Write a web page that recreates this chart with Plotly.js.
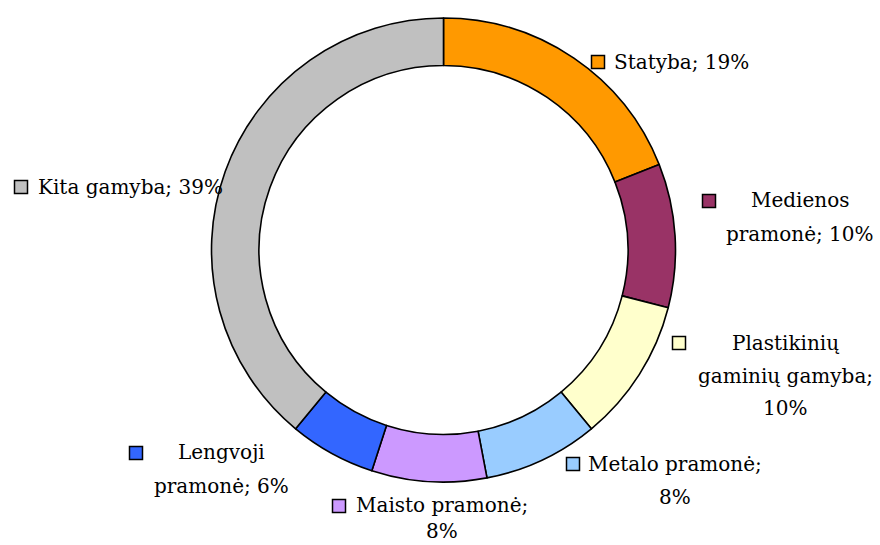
<!DOCTYPE html>
<html>
<head>
<meta charset="utf-8">
<script src="https://cdn.plot.ly/plotly-3.0.1.min.js"></script>
<style>html,body{margin:0;padding:0;background:#fff;}#chart{width:880px;height:545px;}</style>
</head>
<body>
<div id="chart"></div>
<script>
// ---- data ----
const categories = ["Statyba", "Medienos pramonė", "Plastikinių gaminių gamyba", "Metalo pramonė", "Maisto pramonė", "Lengvoji pramonė", "Kita gamyba"];
const values = [19, 10, 10, 8, 8, 6, 39];
const colors = ["#FF9900", "#993366", "#FFFFCC", "#99CCFF", "#CC99FF", "#3366FF", "#C0C0C0"];

// ---- label layout (pixel positions, words per line) ----
const W = 880, H = 545;
const labelLayout = [
  {sq:[598,62],  tx:612, ty:62,  anchor:"left",   words:[2],     gap:33},
  {sq:[709,201], tx:800, ty:200, anchor:"center", words:[1,2],   gap:34},
  {sq:[679,343], tx:785, ty:343, anchor:"center", words:[1,2,1], gap:32.5},
  {sq:[573,464], tx:675, ty:464, anchor:"center", words:[2,1],   gap:33},
  {sq:[339,506], tx:442, ty:505, anchor:"center", words:[2,1],   gap:26},
  {sq:[136,453], tx:221, ty:452, anchor:"center", words:[1,2],   gap:34},
  {sq:[21,187],  tx:36,  ty:187, anchor:"left",   words:[3],     gap:33}
];
const sqSize = 13;
const px = x => x / W, py = y => 1 - y / H;

const annotations = [], shapes = [];
categories.forEach((c, i) => {
  const L = labelLayout[i];
  const words = (c + "; " + values[i] + "%").split(" ");
  let k = 0;
  L.words.forEach((n, li) => {
    const txt = words.slice(k, k + n).join(" ");
    k += n;
    annotations.push({
      xref: "paper", yref: "paper", x: px(L.tx), y: py(L.ty + li * L.gap),
      xanchor: L.anchor, yanchor: "middle", showarrow: false, text: txt,
      font: {family: "DejaVu Serif, serif", size: 20, color: "#000"}
    });
  });
  shapes.push({
    type: "rect", xref: "paper", yref: "paper",
    x0: px(L.sq[0] - sqSize/2), x1: px(L.sq[0] + sqSize/2),
    y0: py(L.sq[1] + sqSize/2), y1: py(L.sq[1] - sqSize/2),
    fillcolor: colors[i], line: {color: "#000", width: 1.5}
  });
});

const cx = 443.5, cy = 250, R = 232;
const trace = {
  type: "pie", labels: categories, values: values, sort: false,
  direction: "clockwise", rotation: 0, hole: 0.795,
  marker: {colors: colors, line: {color: "#000", width: 1.6}},
  textinfo: "none", hoverinfo: "none", showlegend: false,
  domain: {x: [px(cx - R), px(cx + R)], y: [py(cy + R), py(cy - R)]}
};

Plotly.newPlot("chart", [trace], {
  width: W, height: H, margin: {l:0, r:0, t:0, b:0},
  paper_bgcolor: "#fff", plot_bgcolor: "#fff",
  showlegend: false, annotations: annotations, shapes: shapes
}, {displayModeBar: false, staticPlot: true});
</script>
</body>
</html>
